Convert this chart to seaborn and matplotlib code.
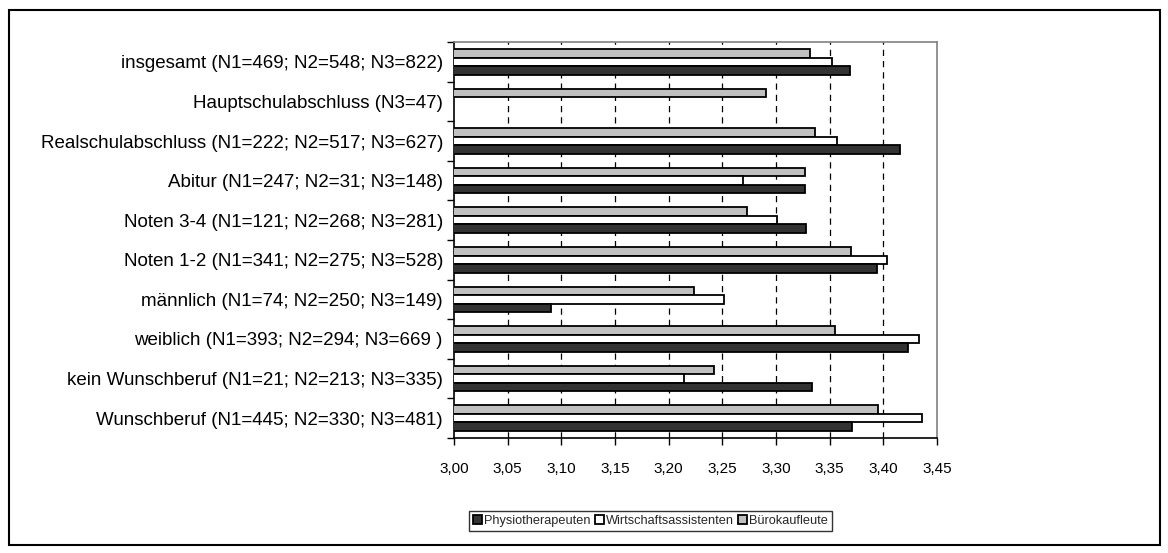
import numpy as np
import pandas as pd
import matplotlib
matplotlib.use("Agg")
import matplotlib.pyplot as plt
from matplotlib.patches import Rectangle, Patch
from matplotlib.ticker import FixedLocator, FuncFormatter
import seaborn as sns

# Gruppen (von oben nach unten)
groups = [
    "insgesamt (N1=469; N2=548; N3=822)",
    "Hauptschulabschluss (N3=47)",
    "Realschulabschluss (N1=222; N2=517; N3=627)",
    "Abitur (N1=247; N2=31; N3=148)",
    "Noten 3-4 (N1=121; N2=268; N3=281)",
    "Noten 1-2 (N1=341; N2=275; N3=528)",
    "männlich (N1=74; N2=250; N3=149)",
    "weiblich (N1=393; N2=294; N3=669 )",
    "kein Wunschberuf (N1=21; N2=213; N3=335)",
    "Wunschberuf (N1=445; N2=330; N3=481)",
]

# Mittelwerte je Ausbildungsgang
physio = [3.369, np.nan, 3.416, 3.327, 3.328, 3.394, 3.090, 3.423, 3.334, 3.371]
wirtschaft = [3.352, np.nan, 3.357, 3.269, 3.301, 3.403, 3.252, 3.433, 3.214, 3.436]
buero = [3.332, 3.291, 3.336, 3.327, 3.273, 3.370, 3.224, 3.355, 3.242, 3.395]

series_names = ["Physiotherapeuten", "Wirtschaftsassistenten", "Bürokaufleute"]
series_colors = {"Physiotherapeuten": "#333333",
                 "Wirtschaftsassistenten": "#ffffff",
                 "Bürokaufleute": "#c0c0c0"}

xticks = [3.00, 3.05, 3.10, 3.15, 3.20, 3.25, 3.30, 3.35, 3.40, 3.45]

df = pd.DataFrame({
    "Gruppe": groups * 3,
    "Reihe": [series_names[0]] * 10 + [series_names[1]] * 10 + [series_names[2]] * 10,
    "Wert": physio + wirtschaft + buero,
})

sns.set_theme(style="white")
plt.rcParams["font.family"] = ["Liberation Sans", "DejaVu Sans"]

fig = plt.figure(figsize=(11.68, 5.53), dpi=100)
ax = fig.add_axes([0.3887, 0.208, 0.4135, 0.716])

# Balken: Bürokaufleute oben, Physiotherapeuten unten in jeder Gruppe
hue_order = ["Bürokaufleute", "Wirtschaftsassistenten", "Physiotherapeuten"]
sns.barplot(data=df, x="Wert", y="Gruppe", hue="Reihe", hue_order=hue_order,
            order=groups, palette=series_colors, orient="h", width=0.65,
            edgecolor="black", linewidth=1.3, errorbar=None, ax=ax, legend=False,
            zorder=3)

ax.set_xlim(3.0, 3.45)
ax.set_ylim(len(groups) - 0.5, -0.5)
ax.set_xlabel("")
ax.set_ylabel("")

# x-Achse mit deutschem Dezimalkomma
ax.xaxis.set_major_locator(FixedLocator(xticks))
ax.xaxis.set_major_formatter(FuncFormatter(lambda v, p: f"{v:.2f}".replace(".", ",")))
ax.tick_params(axis="x", direction="out", length=5, width=1, color="black",
               labelsize=11, pad=12, labelcolor="black", bottom=True)

# y-Achse: Beschriftungen mittig, Teilstriche an den Gruppengrenzen
ax.tick_params(axis="y", which="major", length=0, pad=8, labelsize=13.5, labelcolor="black")
ax.yaxis.set_minor_locator(FixedLocator(np.arange(-0.5, len(groups), 1.0)))
ax.tick_params(axis="y", which="minor", direction="out", length=5, width=1,
               color="black", left=True)

# gestrichelte Gitterlinien
for v in xticks[1:-1]:
    ax.axvline(v, color="black", linestyle=(0, (5, 4)), linewidth=0.9, zorder=1)
ax.grid(False)

ax.spines["left"].set_color("black")
ax.spines["bottom"].set_color("black")
ax.spines["top"].set_color("#808080")
ax.spines["right"].set_color("#808080")
for s in ax.spines.values():
    s.set_linewidth(1.2)

# Legende
handles = [Patch(facecolor=series_colors[n], edgecolor="black", linewidth=1.3, label=n)
           for n in series_names]
leg = fig.legend(handles=handles, loc="center", bbox_to_anchor=(0.557, 0.058), ncol=3,
                 frameon=True, fancybox=False, prop={"family": "Liberation Sans", "size": 9.2},
                 handlelength=0.7, handleheight=0.75, handletextpad=0.15,
                 columnspacing=0.35, borderpad=0.3, borderaxespad=0)
leg.get_frame().set_edgecolor("black")
leg.get_frame().set_linewidth(1.0)

# Rahmen um die gesamte Grafik
fig.patches.append(Rectangle((9 / 1168, 8 / 553), 1151 / 1168, 535 / 553,
                             transform=fig.transFigure, fill=False,
                             edgecolor="black", linewidth=1.5))

fig.savefig("out.png", dpi=100, facecolor="white")
